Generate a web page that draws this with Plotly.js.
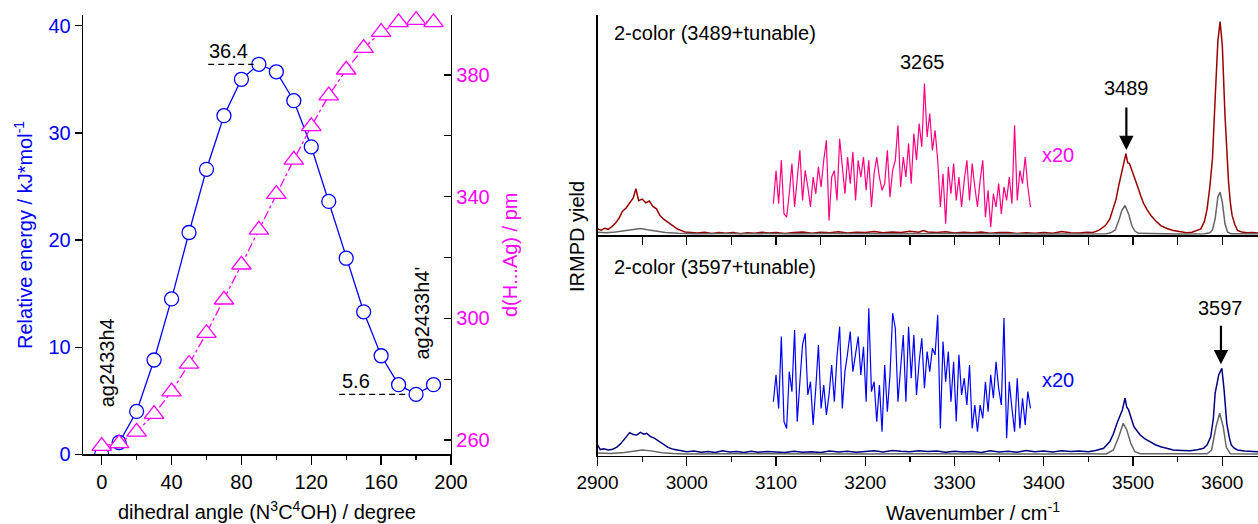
<!DOCTYPE html>
<html>
<head>
<meta charset="utf-8">
<script src="https://cdn.plot.ly/plotly-3.0.1.min.js"></script>
<style>html,body{margin:0;padding:0;background:#fff;}#chart{width:1258px;height:524px;}</style>
</head>
<body>
<div id="chart"></div>
<script>
// ---------- Left panel data ----------
const angle = [0,10,20,30,40,50,60,70,80,90,100,110,120,130,140,150,160,170,180,190];
const energy = [0.0,1.1,4.0,8.8,14.5,20.7,26.6,31.6,35.0,36.4,35.7,33.0,28.7,23.6,18.3,13.3,9.2,6.5,5.6,6.5];
const distance = [258.0,258.9,262.7,268.5,275.9,285.0,295.1,306.1,317.6,329.1,340.8,352.1,363.1,373.2,381.7,388.8,394.1,397.3,398.0,397.3];
const angleTicks = [0,40,80,120,160,200];
const energyTicks = [0,10,20,30,40];
const distanceTicks = [260,300,340,380];
const labelStart = "ag2433h4";
const labelEnd = "ag2433h4'";

// ---------- Right panel data ----------
const waveTicks = [2900,3000,3100,3200,3300,3400,3500,3600];
// top spectrum: 2-color (3489+tunable), [wavenumber, yield]
const topRed = [[2900,3.0],[2904,2.4],[2908,3.3],[2912,2.8],[2916,4.0],[2920,5.5],[2924,7.8],[2928,11.0],[2932,12.5],[2936,15.0],[2940,17.0],[2943,21.2],[2946,15.8],[2950,16.5],[2954,14.8],[2958,15.6],[2962,13.2],[2966,12.1],[2970,9.0],[2974,7.4],[2978,6.2],[2982,4.8],[2986,3.9],[2990,2.8],[2994,2.2],[2998,1.6],[3005,1.4],[3012,1.1],[3020,1.5],[3028,0.9],[3036,1.3],[3044,1.0],[3052,1.4],[3060,0.8],[3068,1.2],[3076,1.0],[3084,1.5],[3092,1.1],[3100,1.3],[3110,0.9],[3120,1.4],[3130,1.6],[3140,1.0],[3150,1.5],[3160,1.2],[3170,1.7],[3180,1.1],[3190,1.5],[3200,1.3],[3210,1.8],[3220,1.2],[3230,1.6],[3240,1.4],[3250,1.9],[3260,1.5],[3265,2.2],[3270,1.6],[3280,1.3],[3290,1.7],[3300,1.1],[3310,1.5],[3320,1.2],[3330,1.6],[3340,1.0],[3350,1.3],[3360,1.4],[3370,0.9],[3380,1.2],[3390,1.0],[3400,1.3],[3410,1.0],[3420,1.8],[3430,1.2],[3440,1.1],[3448,1.5],[3455,1.4],[3462,2.4],[3469,4.5],[3474,7.5],[3478,12.1],[3481,16.5],[3484,22.7],[3487,28.8],[3490,33.5],[3492,37.1],[3494,33.0],[3496,32.6],[3498,30.5],[3501,27.3],[3504,24.0],[3506,21.2],[3509,17.5],[3512,14.4],[3516,11.5],[3520,9.1],[3525,6.8],[3531,4.5],[3538,3.2],[3545,2.3],[3552,1.8],[3560,1.2],[3566,1.5],[3572,2.2],[3576,3.0],[3580,6.5],[3583,12.1],[3586,22.0],[3589,34.9],[3592,62.1],[3595,87.9],[3597.5,97.0],[3600,86.4],[3603,54.5],[3605,38.0],[3607,24.2],[3609,15.0],[3611,9.1],[3614,5.0],[3617,2.3],[3622,1.6],[3628,1.2],[3634,1.4],[3640,1.1]];
const topGray = [[2900,1.5],[2910,1.2],[2920,1.6],[2930,2.2],[2940,3.0],[2948,3.2],[2956,2.6],[2966,2.0],[2976,1.4],[2990,1.0],[3010,0.8],[3040,0.9],[3080,0.7],[3120,0.8],[3160,0.9],[3200,0.7],[3240,0.8],[3280,0.9],[3320,0.7],[3360,0.8],[3400,0.7],[3440,0.8],[3470,0.8],[3475,1.2],[3480,2.5],[3484,6.8],[3487.5,11.4],[3491,13.6],[3495,9.8],[3498.6,4.5],[3502,2.0],[3506,1.0],[3520,0.8],[3550,0.7],[3580,0.8],[3586,1.2],[3589,2.5],[3592,7.6],[3595,17.4],[3597.5,19.7],[3600,15.2],[3603,5.3],[3606,1.5],[3610,0.8],[3640,0.8]];
// x20 magnified tunable segment (top), equally spaced from 3097 cm-1
const pinkStart = 3097, pinkStep = 2.97;
const pinkY = [14.4,29.5,14.4,34.1,9.8,8.3,18.9,32.6,12.9,25.0,
  38.6,15.9,29.5,22.0,12.9,26.5,18.9,31.1,22.0,34.1,
  43.2,6.8,26.5,29.5,15.9,43.9,31.1,18.9,35.6,23.5,
  37.9,15.9,34.1,26.5,35.6,20.5,34.1,12.9,28.0,35.6,
  26.5,20.5,23.5,38.6,17.4,29.5,34.1,50.0,22.0,35.6,
  26.5,41.7,23.5,46.2,34.1,50.8,40.2,68.9,44.7,55.3,
  38.6,47.7,34.1,12.9,28.0,5.3,31.1,18.9,32.6,15.9,
  26.5,12.9,25.0,34.1,15.9,32.6,22.0,12.9,25.0,34.1,
  8.3,20.5,3.8,18.9,12.9,23.5,9.8,22.0,15.9,26.5,
  14.4,50.0,15.9,29.5,23.5,35.6,22.0,12.9];

// bottom spectrum: 2-color (3597+tunable)
const botNavy = [[2900,4.9],[2903,2.8],[2907,3.2],[2912,2.6],[2917,2.9],[2922,4.0],[2926,5.5],[2929,7.1],[2933,8.8],[2936,10.5],[2940,9.6],[2944,9.4],[2948,10.6],[2952,9.8],[2955,10.2],[2959,8.8],[2964,7.9],[2969,6.4],[2974,4.9],[2979,3.8],[2985,2.9],[2992,2.3],[3000,1.8],[3008,2.1],[3016,1.6],[3024,1.9],[3032,1.5],[3040,2.2],[3048,1.7],[3056,1.9],[3064,1.5],[3072,2.0],[3080,1.6],[3090,1.9],[3100,1.7],[3110,1.5],[3120,2.0],[3130,1.6],[3140,1.8],[3150,1.5],[3160,2.1],[3170,1.7],[3180,2.0],[3190,1.6],[3200,1.9],[3210,2.2],[3220,1.7],[3230,2.4],[3240,2.0],[3250,1.8],[3260,2.3],[3270,1.9],[3280,2.1],[3290,1.6],[3300,2.0],[3310,1.7],[3320,1.9],[3330,1.5],[3340,2.2],[3350,1.7],[3360,2.0],[3370,1.6],[3380,2.4],[3390,1.8],[3400,2.1],[3410,1.7],[3420,2.3],[3430,1.9],[3440,2.1],[3450,1.8],[3458,2.4],[3467,3.4],[3474,6.4],[3478,10.0],[3482,14.7],[3485,18.0],[3488,20.8],[3491,26.1],[3493,22.0],[3495,20.8],[3498,16.5],[3501,13.2],[3505,11.0],[3508,9.4],[3513,7.8],[3519,6.4],[3525,5.0],[3531,4.1],[3538,3.4],[3545,2.6],[3555,2.4],[3564,2.3],[3572,2.7],[3579,3.4],[3583,5.0],[3587,8.6],[3590,17.0],[3592,28.4],[3596,36.7],[3599.5,39.7],[3602,29.9],[3605,14.7],[3608,8.0],[3610,4.9],[3613,3.5],[3617,2.6],[3625,2.1],[3632,1.9],[3640,1.8]];
const botGray = [[2900,1.2],[2915,1.0],[2930,1.5],[2940,2.2],[2950,2.6],[2960,2.2],[2972,1.4],[2985,1.0],[3000,0.8],[3050,0.9],[3100,0.8],[3150,0.9],[3200,0.8],[3250,0.9],[3300,0.8],[3350,0.9],[3400,0.8],[3450,0.9],[3470,0.8],[3478,2.6],[3484,8.6],[3489,14.7],[3493,11.7],[3497.5,5.6],[3502,1.8],[3508,0.9],[3540,0.8],[3583,0.9],[3588,2.6],[3593,13.2],[3597,19.3],[3601,13.2],[3604.5,3.8],[3609,0.9],[3640,0.8]];
const blueStart = 3097, blueStep = 2.97;
const blueY = [24.5,36.7,21.5,54.1,15.5,12.4,38.2,29.1,57.1,15.5,
  33.6,50.3,55.6,27.6,33.6,14.0,30.6,50.3,21.5,32.1,
  18.5,27.6,41.2,24.5,45.0,58.6,21.5,38.2,46.5,56.4,
  38.2,47.3,54.1,36.7,49.5,24.5,67.0,29.1,33.6,15.5,
  32.1,10.9,41.2,20.0,36.7,64.7,57.9,24.5,41.2,54.8,
  24.5,58.6,35.2,54.8,27.6,42.7,53.3,30.6,47.3,38.2,
  48.8,45.8,64.0,12.4,51.8,33.6,47.3,24.5,42.7,15.5,
  45.8,27.6,35.2,23.0,41.2,12.4,23.0,10.9,23.0,17.0,
  33.6,20.0,36.7,26.1,42.7,30.6,23.0,62.5,7.9,33.6,
  21.5,10.9,35.2,12.4,26.1,14.0,29.1,21.5];

// ---------- Build ----------
const FONT = "Liberation Sans, Arial, sans-serif";
const xs = a => a.map(p => p[0]);
const ys = a => a.map(p => p[1]);
const grid = (start, step, arr) => arr.map((_, i) => start + i * step);

const traces = [
  {x: angle, y: distance, xaxis: 'x', yaxis: 'y2', mode: 'lines+markers', cliponaxis: false,
   line: {color: '#FF00FF', width: 1.3, dash: '9px,3px,3px,3px'},
   marker: {symbol: 'triangle-up', size: 17, color: 'white', line: {color: '#FF00FF', width: 1.3}}},
  {x: angle, y: energy, xaxis: 'x', yaxis: 'y', mode: 'lines+markers',
   line: {color: '#0000FF', width: 1.3},
   marker: {symbol: 'circle', size: 14, color: 'white', line: {color: '#0000FF', width: 1.3}}},
  {x: xs(topRed), y: ys(topRed), xaxis: 'x3', yaxis: 'y4', mode: 'lines', line: {color: '#990000', width: 1.5}},
  {x: xs(topGray), y: ys(topGray), xaxis: 'x3', yaxis: 'y4', mode: 'lines', line: {color: '#666666', width: 1.5}},
  {x: grid(pinkStart, pinkStep, pinkY), y: pinkY, xaxis: 'x3', yaxis: 'y4', mode: 'lines', line: {color: '#FF0080', width: 1.2}},
  {x: xs(botNavy), y: ys(botNavy), xaxis: 'x2', yaxis: 'y3', mode: 'lines', line: {color: '#000080', width: 1.5}},
  {x: xs(botGray), y: ys(botGray), xaxis: 'x2', yaxis: 'y3', mode: 'lines', line: {color: '#666666', width: 1.5}},
  {x: grid(blueStart, blueStep, blueY), y: blueY, xaxis: 'x2', yaxis: 'y3', mode: 'lines', line: {color: '#0000FF', width: 1.2}}
];

const iMax = energy.indexOf(Math.max(...energy));
const iMin = 18;

const axisBase = {showgrid: false, zeroline: false, showline: true, linecolor: 'black', linewidth: 1.3,
  tickcolor: 'black', tickwidth: 1.3};

const C = {xanchor: 'center', yanchor: 'middle', showarrow: false};
const ann = o => Object.assign({}, C, o);

const layout = {
  width: 1258, height: 524, margin: {l: 0, r: 0, t: 0, b: 0},
  paper_bgcolor: 'white', plot_bgcolor: 'white', showlegend: false,
  font: {family: FONT, size: 20, color: 'black'},
  xaxis: Object.assign({}, axisBase, {domain: [0.06598, 0.3585], range: [-10.7, 200], anchor: 'y',
    tickvals: angleTicks, ticks: 'outside', ticklen: 9,
    minor: {dtick: 20, tick0: 0, ticks: 'outside', ticklen: 4, tickcolor: 'black', tickwidth: 1.3},
    tickfont: {size: 20, color: 'black'}}),
  yaxis: Object.assign({}, axisBase, {domain: [0.1330, 0.9714], range: [0, 41], anchor: 'x',
    tickvals: energyTicks, ticks: 'outside', ticklen: 7, tickfont: {size: 20, color: '#0000FF'}}),
  yaxis2: Object.assign({}, axisBase, {overlaying: 'y', side: 'right', anchor: 'x', range: [255.3, 399.7],
    tickvals: distanceTicks, ticks: 'inside', ticklen: 7,
    minor: {dtick: 20, tick0: 260, ticks: 'inside', ticklen: 7, tickcolor: 'black', tickwidth: 1.3},
    tickfont: {size: 20, color: '#FF00FF'}}),
  xaxis2: Object.assign({}, axisBase, {domain: [0.4750, 1.0], range: [2900, 3640], anchor: 'y3',
    tickvals: waveTicks, ticks: 'outside', ticklen: 9,
    minor: {dtick: 50, tick0: 2900, ticks: 'outside', ticklen: 5, tickcolor: 'black', tickwidth: 1.3},
    tickfont: {size: 19, color: 'black'}}),
  yaxis3: Object.assign({}, axisBase, {domain: [0.1303, 0.5506], range: [0, 100], anchor: 'x2',
    showticklabels: false, ticks: ''}),
  xaxis3: Object.assign({}, axisBase, {domain: [0.4750, 1.0], range: [2900, 3640], anchor: 'y4', matches: 'x2',
    showticklabels: false, ticks: 'outside', ticklen: 8, dtick: 50, tick0: 2900}),
  yaxis4: Object.assign({}, axisBase, {domain: [0.5506, 0.9714], range: [0, 100], anchor: 'x3',
    showticklabels: false, ticks: ''}),
  shapes: [
    {type: 'line', xref: 'x', yref: 'y', x0: 61, x1: 87, y0: energy[iMax], y1: energy[iMax],
     line: {color: 'black', width: 1.2, dash: '6px,4px'}},
    {type: 'line', xref: 'x', yref: 'y', x0: 136, x1: 176, y0: energy[iMin], y1: energy[iMin],
     line: {color: 'black', width: 1.2, dash: '6px,4px'}}
  ],
  annotations: [
    ann({xref: 'x', yref: 'y', x: 72.8, y: energy[iMax] + 1.2, text: energy[iMax].toFixed(1), font: {size: 20}}),
    ann({xref: 'x', yref: 'y', x: 145.6, y: energy[iMin] + 1.2, text: energy[iMin].toFixed(1), font: {size: 20}}),
    ann({xref: 'x', yref: 'y', x: 3.1, y: 8.5, text: labelStart, textangle: -90, font: {size: 20}}),
    ann({xref: 'x', yref: 'y', x: 183.2, y: 13.2, text: labelEnd, textangle: -90, font: {size: 20}}),
    ann({xref: 'paper', yref: 'paper', x: 23/1258, y: 1 - 235/524, text: 'Relative energy / kJ*mol<sup>-1</sup>',
     textangle: -90, font: {size: 20, color: '#0000FF'}}),
    ann({xref: 'paper', yref: 'paper', x: 510/1258, y: 1 - 255/524, text: 'd(H...Ag) / pm',
     textangle: -90, font: {size: 20, color: '#FF00FF'}}),
    ann({xref: 'paper', yref: 'paper', x: 267/1258, y: 1 - 510/524, text: 'dihedral angle (N<sup>3</sup>C<sup>4</sup>OH) / degree',
     font: {size: 20}}),
    ann({xref: 'paper', yref: 'paper', x: 577/1258, y: 1 - 237/524, text: 'IRMPD yield',
     textangle: -90, font: {size: 20}}),
    ann({xref: 'paper', yref: 'paper', x: 973/1258, y: 1 - 511/524, text: 'Wavenumber / cm<sup>-1</sup>',
     font: {size: 20}}),
    // top spectrum labels
    ann({xref: 'x3', yref: 'y4', x: 2916, y: 91.8, xanchor: 'left', text: '2-color (3489+tunable)', font: {size: 20}}),
    ann({xref: 'x3', yref: 'y4', x: 3264, y: 78.6, text: '3265', font: {size: 20}}),
    ann({xref: 'x3', yref: 'y4', x: 3492.5, y: 66.8, text: '3489', font: {size: 20}}),
    {xref: 'x3', yref: 'y4', x: 3492.5, y: 38.8, ax: 0, ay: -44, text: '', showarrow: true,
     arrowhead: 2, arrowsize: 1.3, arrowwidth: 2.2, arrowcolor: 'black'},
    ann({xref: 'x3', yref: 'y4', x: 3396, y: 36.4, xanchor: 'left', text: 'x20', font: {size: 20, color: '#FF00FF'}}),
    // bottom spectrum labels
    ann({xref: 'x2', yref: 'y3', x: 2916, y: 85.8, xanchor: 'left', text: '2-color (3597+tunable)', font: {size: 20}}),
    ann({xref: 'x2', yref: 'y3', x: 3598, y: 67.1, text: '3597', font: {size: 20}}),
    {xref: 'x2', yref: 'y3', x: 3598.5, y: 41.5, ax: 0, ay: -40, text: '', showarrow: true,
     arrowhead: 2, arrowsize: 1.3, arrowwidth: 2.2, arrowcolor: 'black'},
    ann({xref: 'x2', yref: 'y3', x: 3396, y: 34.4, xanchor: 'left', text: 'x20', font: {size: 20, color: '#0000FF'}})
  ]
};

Plotly.newPlot('chart', traces, layout, {displayModeBar: false, staticPlot: true});
</script>
</body>
</html>
